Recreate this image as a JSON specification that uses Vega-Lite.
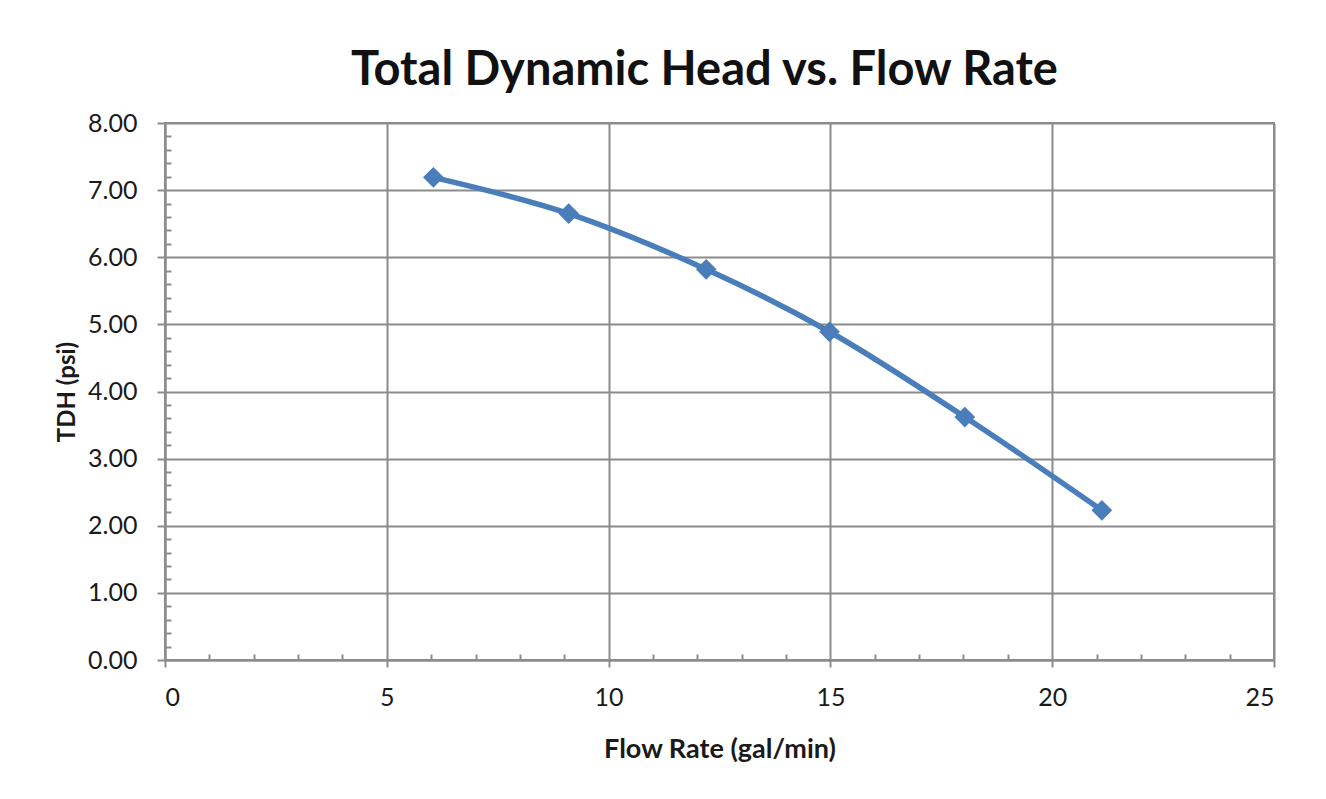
{
  "$schema": "https://vega.github.io/schema/vega-lite/v6.json",
  "autosize": "none",
  "width": 1109,
  "height": 537,
  "padding": {"left": 165, "top": 123, "right": 52, "bottom": 139},
  "background": "white",
  "config": {
    "font": "Lato",
    "view": {"stroke": "#8c8c8c", "strokeWidth": 2},
    "axis": {"domainColor": "#8c8c8c", "domainWidth": 2, "tickColor": "#8c8c8c", "tickWidth": 2, "gridColor": "#8c8c8c", "gridWidth": 2, "labelFont": "Lato", "labelFontSize": 25, "labelColor": "#1a1a1a", "titleFont": "Lato", "titleFontWeight": "bold", "titleColor": "#1a1a1a"}
  },
  "title": {"text": "Total Dynamic Head vs. Flow Rate", "fontSize": 47, "font": "Lato", "fontWeight": "bold", "color": "#111111", "anchor": "middle", "dx": -15, "offset": 16},
  "data": {"values": [
    {"flow": 6.05, "tdh": 7.19},
    {"flow": 9.1, "tdh": 6.65},
    {"flow": 12.2, "tdh": 5.82},
    {"flow": 14.98, "tdh": 4.89},
    {"flow": 18.03, "tdh": 3.62},
    {"flow": 21.12, "tdh": 2.23}
  ]},
  "resolve": {"axis": {"x": "independent", "y": "independent"}},
  "layer": [
    {
      "layer": [
        {"mark": {"type": "line", "interpolate": "catmull-rom", "color": "#4a7ebb", "strokeWidth": 5.5},
         "encoding": {
           "x": {"field": "flow", "type": "quantitative", "scale": {"domain": [0, 25], "nice": false}, "axis": {"title": "Flow Rate (gal/min)", "titleFontSize": 27, "values": [0, 5, 10, 15, 20, 25], "tickSize": 7, "labelPadding": 18, "titlePadding": 26, "grid": true}},
           "y": {"field": "tdh", "type": "quantitative", "scale": {"domain": [0, 8], "nice": false}, "axis": {"title": "TDH (psi)", "titleFontSize": 24, "values": [0, 1, 2, 3, 4, 5, 6, 7, 8], "format": ".2f", "tickSize": 8, "labelPadding": 20, "titlePadding": 8, "grid": true}}
         }},
        {"mark": {"type": "point", "shape": "diamond", "filled": true, "color": "#4a7ebb", "opacity": 1, "size": 430},
         "encoding": {
           "x": {"field": "flow", "type": "quantitative"},
           "y": {"field": "tdh", "type": "quantitative"}
         }}
      ]
    },
    {"mark": {"type": "point", "opacity": 0},
     "encoding": {
       "x": {"field": "flow", "type": "quantitative", "axis": {"orient": "bottom", "title": null, "labels": false, "domain": false, "grid": false, "tickSize": -6, "values": [1,2,3,4,6,7,8,9,11,12,13,14,16,17,18,19,21,22,23,24]}},
       "y": {"field": "tdh", "type": "quantitative", "axis": {"orient": "left", "title": null, "labels": false, "domain": false, "grid": false, "tickSize": -6, "values": [0.2,0.4,0.6,0.8,1.2,1.4,1.6,1.8,2.2,2.4,2.6,2.8,3.2,3.4,3.6,3.8,4.2,4.4,4.6,4.8,5.2,5.4,5.6,5.8,6.2,6.4,6.6,6.8,7.2,7.4,7.6,7.8]}}
     }}
  ]
}
